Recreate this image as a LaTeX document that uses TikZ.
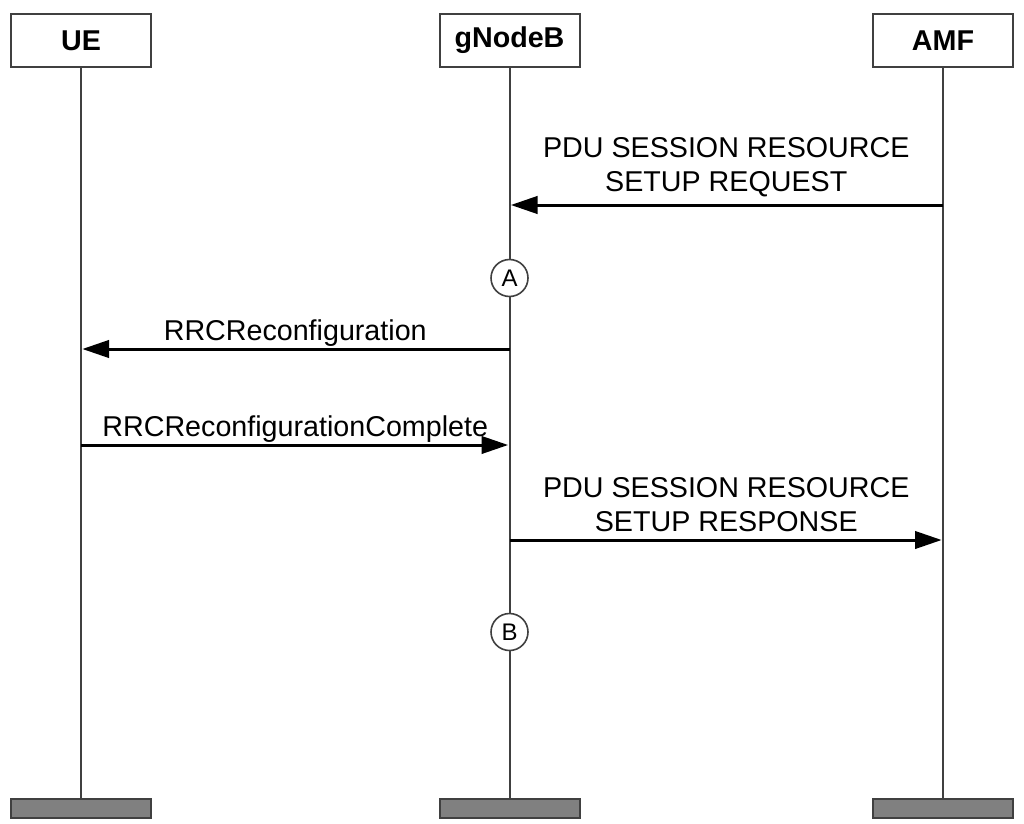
\documentclass[tikz,border=0pt]{standalone}
\usepackage{fontspec}
\setmainfont{Liberation Sans}
\usetikzlibrary{arrows.meta}

\definecolor{edge}{RGB}{64,64,64}
\definecolor{barfill}{RGB}{128,128,128}

\tikzset{every picture/.style={line width=0.75pt}}
\tikzset{
  head/.style={draw=edge, line width=1.5pt, fill=white, minimum width=105pt, minimum height=39.75pt,
    inner sep=0pt, font=\fontsize{21.5}{26}\selectfont\bfseries},
  foot/.style={draw=edge, line width=1.5pt, fill=barfill, minimum width=105pt, minimum height=14.25pt, inner sep=0pt},
  life/.style={draw=edge, line width=1.5pt},
  msg/.style={draw=black, line width=2.25pt, -{Triangle[length=20pt, width=13pt]}, shorten >=1pt},
  lbl/.style={anchor=south, inner sep=0pt, align=center, font=\fontsize{21.5}{25.5}\selectfont, yshift=5pt},
  lbl one/.style={lbl, yshift=-4.5pt},
  mark circle/.style={circle, draw=edge, line width=1.2pt, fill=white, minimum size=27.75pt, inner sep=0pt,
    font=\fontsize{18}{21}\selectfont}
}

\begin{document}
\begin{tikzpicture}[x=0.75pt,y=0.75pt,yscale=-1,xscale=1]
\useasboundingbox (0,0) rectangle (1024,824);

% Lifeline heads
\node[head] (ue)  at (81,40.5)  {UE};
\node[head] (gnb) at (509.5,40.5) {gNodeB};
\node[head] (amf) at (943,40.5) {AMF};

% Lifeline ends
\node[foot] (ueend)  at (81,808.5)  {};
\node[foot] (gnbend) at (509.5,808.5) {};
\node[foot] (amfend) at (943,808.5) {};

% Lifelines
\draw[life] (ue) -- (ueend);
\draw[life] (gnb) -- (gnbend);
\draw[life] (amf) -- (amfend);

% Messages
\draw[msg] (amf |- 0,205) -- node[lbl] {PDU SESSION RESOURCE\\SETUP REQUEST} (gnb |- 0,205);
\node[mark circle] (ca) at (gnb |- 0,278) {A};
\draw[msg] (gnb |- 0,349) -- node[lbl one] {RRCReconfiguration} (ue |- 0,349);
\draw[msg] (ue |- 0,445) -- node[lbl one] {RRCReconfigurationComplete} (gnb |- 0,445);
\draw[msg] (gnb |- 0,540) -- node[lbl] {PDU SESSION RESOURCE\\SETUP RESPONSE} (amf |- 0,540);
\node[mark circle] (cb) at (gnb |- 0,632) {B};

\end{tikzpicture}
\end{document}
